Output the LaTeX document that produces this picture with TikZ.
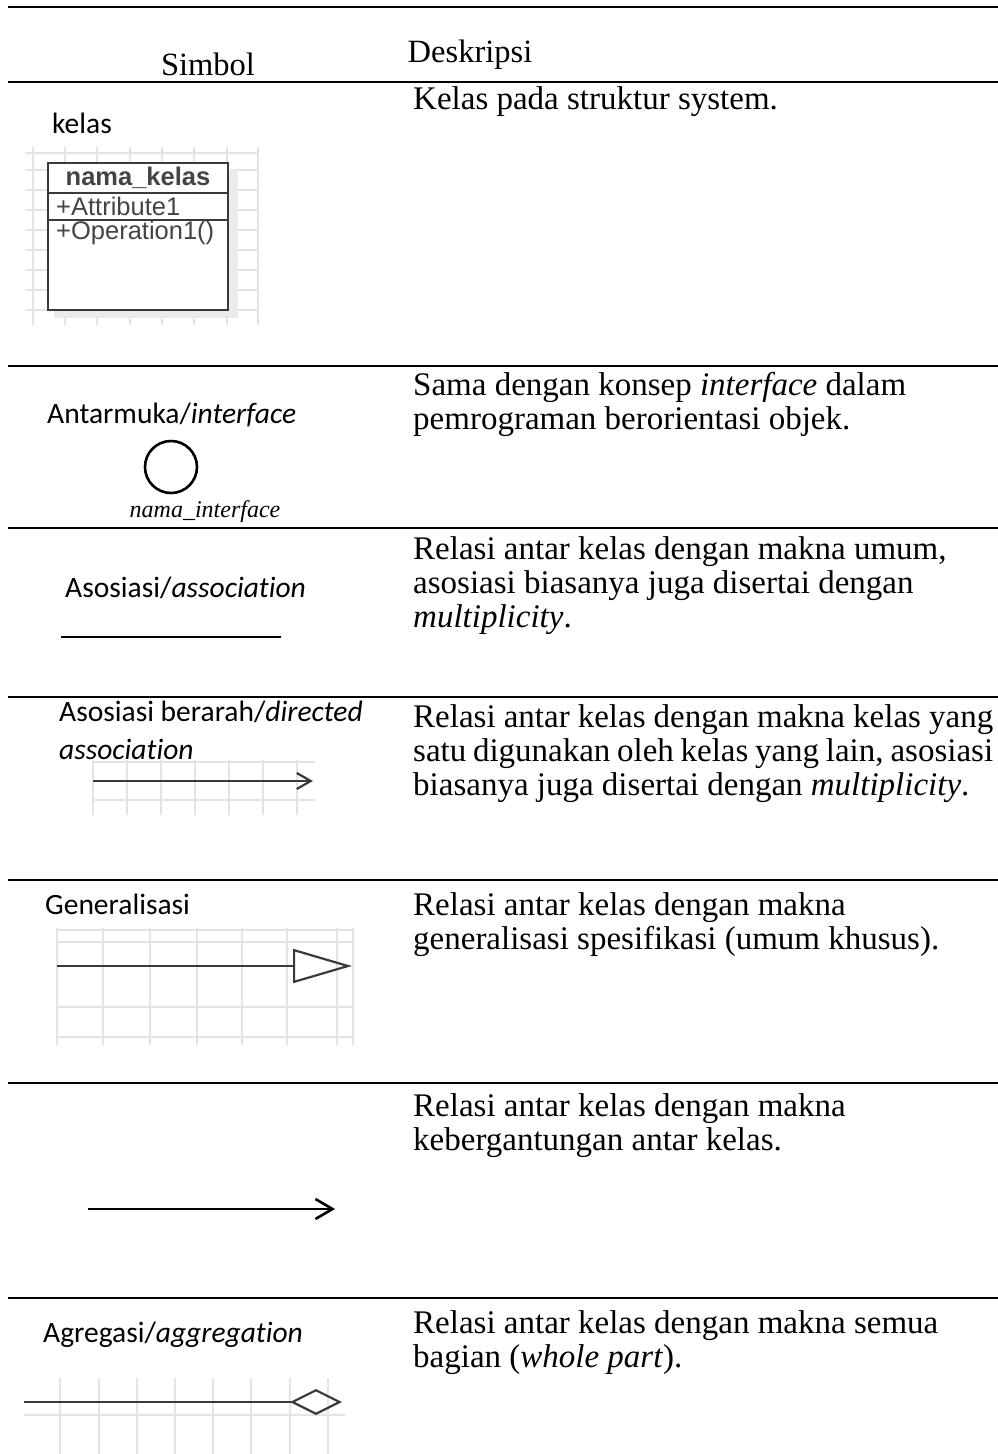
\documentclass[tikz,border=0pt]{standalone}
\usepackage{fontspec}
\setmainfont{Liberation Serif}
\newfontfamily\calfont[Ligatures=NoCommon]{Carlito}
\newfontfamily\arialfont{Liberation Sans}
\usetikzlibrary{arrows.meta}

\newcommand{\descsize}{\fontsize{33}{34}\selectfont}
\newcommand{\lblsize}{\calfont\fontsize{29.5}{36}\selectfont}
\newcommand{\clssize}{\arialfont\fontsize{25.5}{28}\selectfont}
\definecolor{umlink}{HTML}{3A3A3A}
\definecolor{clstext}{HTML}{444444}
\definecolor{gridc}{HTML}{E4E4E4}
\definecolor{clsshadow}{HTML}{EBEBEB}

\begin{document}
\begin{tikzpicture}[x=1pt,y=-1pt,
  rule/.style={line width=2.4pt, draw=black},
  desc/.style={font=\descsize, align=left, anchor=north west, inner sep=0pt},
  lbl/.style={font=\lblsize, anchor=base west, inner sep=0pt},
  headtxt/.style={font=\fontsize{32.5}{34}\selectfont, anchor=base, inner sep=0pt},
  gridln/.style={draw=gridc, line width=1.2pt},
  symln/.style={draw=umlink, line width=2.2pt},
  plainln/.style={draw=black, line width=2.6pt},
  clstxt/.style={font=\clssize, text=clstext, inner sep=0pt}
]
\useasboundingbox (0,0) rectangle (998,1454);
\fill[white] (0,0) rectangle (998,1454);

% ---- table rules ----
\foreach \yy in {7,82,366,528,697,880,1083,1298}
  \draw[rule] (8,\yy) -- (998,\yy);

% ---- header ----
\node[headtxt] (hsym) at (208,75) {Simbol};
\node[headtxt] (hdesc) at (470,62) {Deskripsi};

% ---- descriptions ----
\node[desc] (d1) at (413,86) {Kelas pada struktur system.};
\node[desc] (d2) at (413,372) {Sama dengan konsep \textit{interface} dalam\\pemrograman berorientasi objek.};
\node[desc] (d3) at (413,536) {Relasi antar kelas dengan makna umum,\\asosiasi biasanya juga disertai dengan\\\textit{multiplicity}.};
\node[desc] (d4) at (413,704) {\makebox[580pt][s]{Relasi antar kelas dengan makna kelas yang}\\\makebox[580pt][s]{satu digunakan oleh kelas yang lain, asosiasi}\\biasanya juga disertai dengan \textit{multiplicity}.};
\node[desc] (d5) at (413,892) {Relasi antar kelas dengan makna\\generalisasi spesifikasi (umum khusus).};
\node[desc] (d6) at (413,1093) {Relasi antar kelas dengan makna\\kebergantungan antar kelas.};
\node[desc] (d7) at (413,1310) {Relasi antar kelas dengan makna semua\\bagian (\textit{whole part}).};

% ---- symbol labels ----
\node[lbl] (l1) at (52,133) {kelas};
\node[lbl] (l2) at (47,423) {Antarmuka/\textit{interface}};
\node[lbl] (l3) at (65,597) {Asosiasi/\textit{association}};
\node[lbl] (l4) at (59,721) {Asosiasi berarah/\textit{directed}};
\node[lbl] (l4b) at (59,759) {\textit{association}};
\node[lbl] (l5) at (45,914) {Generalisasi};
\node[lbl] (l7) at (43,1342) {Agregasi/\textit{aggregation}};

% ---- class symbol ----
\foreach \xx in {33,65,97,130,162,194,227,258}
  \draw[gridln] (\xx,147) -- (\xx,325);
\foreach \yy in {153,170,190,210,230,250,270,290,310}
  \draw[gridln] (25,\yy) -- (258,\yy);
\fill[clsshadow] (54,169) rectangle (238,318);
\node[draw=umlink, line width=2pt, fill=white, minimum width=180pt, minimum height=147pt,
      inner sep=0pt] (cls) at (138,236.5) {};
\draw[umlink, line width=1.6pt] (cls.west |- 0,193) -- (cls.east |- 0,193);
\draw[umlink, line width=1.6pt] (cls.west |- 0,220) -- (cls.east |- 0,220);
\node[clstxt, font=\clssize\bfseries] (clsname) at (138,178) {nama\_kelas};
\node[clstxt, anchor=west] (clsattr) at (56,206) {+Attribute1};
\node[clstxt, anchor=west] (clsop) at (56,233) {+Operation1()};

% ---- interface symbol ----
\node[circle, draw=black, line width=2.6pt, minimum size=52pt, inner sep=0pt] (iface) at (171,467) {};
\node[font=\fontsize{24}{26}\selectfont\itshape, inner sep=0pt] (ifname) at (205,512) {nama\_interface};

% ---- association ----
\coordinate (asA) at (61,637);
\coordinate (asB) at (281,637);
\draw[plainln] (asA) -- (asB);

% ---- directed association ----
\foreach \xx in {93,127,161,195,229,263,297}
  \draw[gridln] (\xx,760) -- (\xx,815);
\draw[gridln] (93,762) -- (315,762);
\draw[gridln] (93,800) -- (315,800);
\coordinate (daA) at (93,781);
\coordinate (daB) at (313,781);
\draw[symln, -{Straight Barb[length=14pt,width=16pt]}] (daA) -- (daB);

% ---- generalization ----
\foreach \xx in {57,103,150,197,242,287,337,353}
  \draw[gridln] (\xx,928) -- (\xx,1045);
\foreach \yy in {930,942,1007,1037}
  \draw[gridln] (57,\yy) -- (353,\yy);
\coordinate (geA) at (57,966);
\coordinate (geB) at (352,966);
\draw[symln, -{Triangle[open,length=59pt,width=34pt,line width=2.2pt]}] (geA) -- (geB);

% ---- dependency ----
\coordinate (deA) at (88,1209);
\coordinate (deB) at (335,1209);
\draw[plainln, -{Straight Barb[length=17pt,width=20pt]}] (deA) -- (deB);

% ---- aggregation ----
\foreach \xx in {60,99,137,175,213,251,290,328}
  \draw[gridln] (\xx,1378) -- (\xx,1454);
\draw[gridln] (24,1415) -- (345,1415);
\coordinate (agA) at (24,1402);
\coordinate (agB) at (342,1402);
\draw[symln, -{Diamond[open,length=52pt,width=26pt,line width=2.2pt]}] (agA) -- (agB);
\end{tikzpicture}
\end{document}
